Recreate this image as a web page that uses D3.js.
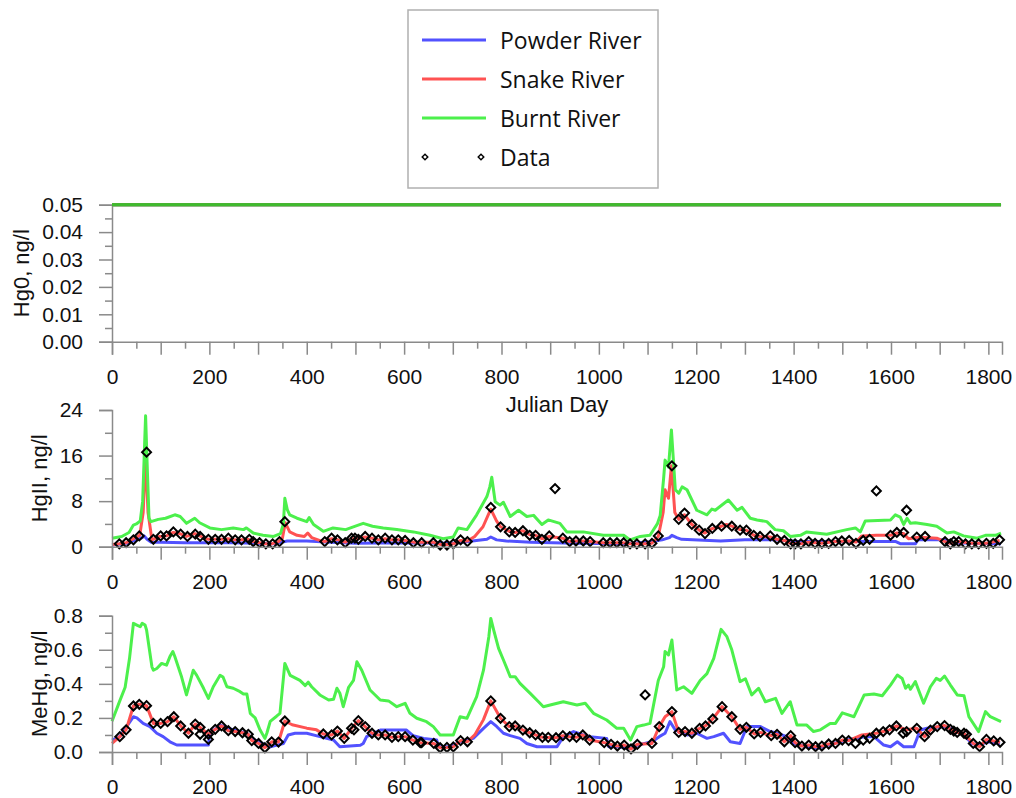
<!DOCTYPE html>
<html>
<head>
<meta charset="utf-8">
<script src="https://cdn.jsdelivr.net/npm/d3@7"></script>
<style>
  html, body { margin: 0; padding: 0; background: #fff; }
  svg { display: block; }
  .tick text { font-family: "Liberation Sans", Arial, sans-serif; font-size: 21px; fill: #111; }
</style>
</head>
<body>
<svg id="chart" width="1016" height="798"></svg>
<script>
// ---------------- DATA ----------------
const seriesNames = ["Powder River", "Snake River", "Burnt River", "Data"];
const xTickLabels = [0, 200, 400, 600, 800, 1000, 1200, 1400, 1600, 1800];

// Panel 1: Hg0 (ng/l)
const hg0Powder = [[0, 0.05], [1826, 0.05]];
const hg0Snake  = [[0, 0.05], [1826, 0.05]];
const hg0Burnt  = [[0, 0.05], [1826, 0.05]];
const hg0Ticks  = [0.00, 0.01, 0.02, 0.03, 0.04, 0.05];

// Panel 2: HgII (ng/l)
const hgiiPowder = [[0,0.3],[30,0.6],[50,1.2],[62,1.6],[66,1.9],[72,1.3],[80,0.8],[100,0.8],[150,0.7],[250,0.7],[330,0.5],[350,0.8],[360,1.0],[400,1.0],[450,0.8],[500,0.6],[600,0.7],[700,0.6],[740,1.0],[770,1.3],[778,1.7],[790,1.2],[810,1.0],[860,0.8],[950,0.6],[1050,0.5],[1100,0.8],[1130,1.2],[1145,1.6],[1150,2.0],[1160,1.6],[1170,1.3],[1250,1.0],[1300,1.2],[1360,1.2],[1410,0.9],[1610,0.9],[1620,0.5],[1650,0.5],[1655,1.2],[1710,1.2],[1720,0.7],[1826,0.5]];
const hgiiSnake = [[0,0.4],[15,0.5],[29,0.7],[44,1.4],[57,2.0],[64,6],[69,16.0],[74,6],[82,1.2],[98,1.8],[112,1.9],[126,2.5],[139,2.3],[153,1.8],[170,2.3],[180,1.9],[198,1.3],[212,1.3],[225,1.3],[239,1.4],[253,1.2],[266,1.2],[280,1.3],[290,0.9],[304,0.7],[316,0.5],[328,0.5],[342,0.9],[350,1.5],[356,4.2],[365,2.6],[380,2.0],[395,1.8],[402,2.4],[410,1.6],[426,1.1],[437,0.9],[451,1.4],[465,1.2],[479,0.8],[492,1.4],[506,1.4],[520,1.7],[534,1.5],[547,1.2],[561,1.4],[575,1.2],[588,1.2],[602,1.1],[619,0.8],[636,0.8],[660,0.8],[674,0.4],[688,0.4],[701,0.5],[716,1.1],[730,1.0],[745,1.8],[762,3.5],[778,6.6],[790,4.5],[798,3.5],[816,2.7],[828,2.5],[844,2.8],[858,2.1],[870,2.0],[883,1.4],[898,1.8],[926,1.5],[940,0.9],[953,1.0],[968,1.0],[982,0.9],[1009,0.7],[1023,0.7],[1037,0.7],[1051,0.7],[1064,0.5],[1078,0.5],[1095,0.5],[1109,0.6],[1122,1.8],[1132,6],[1136,10],[1143,8.5],[1149,14.2],[1156,6],[1164,4.8],[1176,5.6],[1191,3.9],[1206,2.9],[1218,2.4],[1233,3.2],[1252,3.6],[1262,3.9],[1273,3.6],[1290,3.0],[1303,2.9],[1318,2.0],[1331,1.8],[1352,1.7],[1366,1.3],[1381,1.1],[1394,0.6],[1415,0.5],[1431,0.8],[1458,0.6],[1486,0.9],[1514,1.0],[1528,0.8],[1540,1.9],[1570,2.0],[1599,2.0],[1612,2.4],[1626,2.3],[1636,1.4],[1653,1.6],[1670,1.6],[1694,1.5],[1711,0.9],[1722,0.6],[1739,0.9],[1766,0.6],[1796,0.6],[1823,1.1]];
const hgiiBurnt = [[0,1.5],[20,1.8],[35,2.5],[44,3.8],[50,4.0],[58,4.5],[63,8],[67,18],[69,23.0],[72,15],[76,5],[80,4.4],[95,4.8],[110,5.0],[129,5.6],[140,5.3],[153,4.1],[170,5.0],[180,4.2],[201,3.3],[225,3.0],[249,3.3],[270,3.0],[276,3.3],[290,2.4],[310,2.0],[332,1.8],[346,2.3],[352,4],[355,8.5],[360,6.5],[365,5.6],[380,5.0],[400,4.4],[405,5.1],[414,3.9],[434,2.7],[454,3.3],[480,3.0],[500,3.6],[516,4.1],[535,3.6],[557,3.3],[585,3.0],[619,2.6],[653,2.0],[680,1.4],[701,1.7],[711,3.3],[729,3.0],[749,5.6],[770,8.8],[776,10.5],[780,12.2],[787,7.9],[797,7.3],[804,7.8],[818,5.3],[835,6.4],[852,5.3],[866,5.5],[883,3.9],[896,4.7],[920,4.1],[934,2.6],[968,2.6],[1009,2.0],[1051,2.0],[1064,1.2],[1085,1.8],[1105,2.0],[1120,4.0],[1126,5.5],[1133,12],[1136,15.2],[1143,14],[1149,20.5],[1157,10],[1164,9.4],[1171,10.5],[1181,10],[1201,6.4],[1222,5.6],[1232,6.6],[1239,6.4],[1266,8.2],[1284,6.4],[1294,6.9],[1311,5.0],[1325,4.7],[1345,4.4],[1362,3.0],[1379,2.8],[1393,1.8],[1414,2.0],[1427,2.6],[1468,2.2],[1509,3.0],[1527,3.3],[1537,2.6],[1547,4.5],[1599,4.7],[1609,5.6],[1619,5.2],[1626,3.9],[1633,5.0],[1640,4.1],[1650,4.2],[1674,3.9],[1694,3.6],[1715,2.4],[1729,2.6],[1749,1.9],[1777,1.5],[1794,2.0],[1815,2.0],[1826,2.4]];
const hgiiData = [[15,0.5],[29,0.7],[44,1.2],[56,1.9],[71,16.6],[85,1.3],[100,1.9],[112,1.9],[126,2.6],[141,2.2],[155,1.8],[171,2.2],[181,1.8],[198,1.3],[212,1.3],[225,1.3],[239,1.5],[253,1.2],[266,1.2],[282,1.3],[290,0.9],[303,0.7],[316,0.5],[330,0.5],[344,0.9],[355,4.4],[437,0.9],[451,1.5],[463,1.2],[479,0.7],[492,1.5],[499,1.5],[506,1.3],[520,1.8],[534,1.5],[547,1.2],[561,1.5],[575,1.2],[588,1.2],[602,1.1],[619,0.7],[636,0.7],[660,0.7],[674,0.3],[688,0.3],[701,0.5],[716,1.2],[730,0.9],[778,6.9],[798,3.5],[816,2.6],[828,2.5],[844,2.8],[858,2.0],[870,2.0],[883,1.3],[898,1.9],[910,10.2],[926,1.5],[940,0.9],[953,1.0],[968,1.0],[982,0.9],[1009,0.7],[1023,0.7],[1037,0.7],[1051,0.7],[1064,0.5],[1078,0.5],[1095,0.5],[1109,0.6],[1122,1.9],[1150,14.2],[1164,4.8],[1176,5.9],[1191,3.9],[1206,2.9],[1218,2.3],[1233,3.2],[1252,3.6],[1273,3.6],[1290,2.9],[1303,2.9],[1318,2.0],[1331,1.8],[1352,1.9],[1366,1.3],[1381,1.1],[1394,0.5],[1403,0.5],[1415,0.5],[1431,0.9],[1444,0.6],[1458,0.6],[1472,0.6],[1486,0.9],[1499,1.0],[1514,1.1],[1528,0.6],[1543,1.1],[1556,1.3],[1570,9.8],[1599,2.0],[1612,2.5],[1626,2.5],[1632,6.4],[1653,1.7],[1670,1.8],[1711,0.9],[1722,0.5],[1729,0.9],[1739,0.9],[1753,0.5],[1766,0.5],[1780,0.5],[1796,0.6],[1810,0.6],[1823,1.2]];
const hgiiTicks = [0, 8, 16, 24];

// Panel 3: MeHg (ng/l)
const mehgPowder = [[0,0.07],[16,0.09],[30,0.149],[44,0.207],[51,0.2],[64,0.168],[78,0.149],[92,0.11],[105,0.09],[119,0.06],[133,0.041],[198,0.041],[201,0.11],[222,0.158],[249,0.13],[277,0.11],[290,0.074],[311,0.047],[325,0.03],[352,0.05],[362,0.1],[376,0.11],[400,0.11],[427,0.09],[455,0.07],[468,0.031],[510,0.04],[516,0.05],[523,0.09],[537,0.11],[551,0.129],[605,0.129],[619,0.095],[640,0.08],[667,0.07],[671,0.031],[695,0.031],[715,0.06],[742,0.08],[763,0.139],[778,0.178],[790,0.15],[804,0.11],[818,0.096],[838,0.08],[852,0.05],[873,0.031],[914,0.031],[927,0.09],[948,0.12],[968,0.1],[982,0.09],[1016,0.08],[1020,0.031],[1037,0.031],[1065,0.022],[1079,0.04],[1109,0.06],[1124,0.09],[1136,0.11],[1146,0.178],[1157,0.129],[1181,0.1],[1201,0.11],[1222,0.08],[1236,0.09],[1256,0.11],[1270,0.06],[1290,0.05],[1304,0.149],[1332,0.149],[1352,0.12],[1366,0.11],[1386,0.09],[1400,0.05],[1427,0.031],[1448,0.022],[1482,0.05],[1510,0.07],[1545,0.09],[1565,0.09],[1585,0.041],[1599,0.031],[1613,0.06],[1626,0.031],[1647,0.031],[1660,0.129],[1674,0.139],[1708,0.149],[1729,0.133],[1750,0.1],[1766,0.05],[1783,0.041],[1797,0.06],[1824,0.05]];
const mehgSnake = [[0,0.05],[16,0.09],[29,0.13],[44,0.27],[56,0.28],[71,0.272],[85,0.168],[100,0.168],[114,0.178],[127,0.207],[141,0.153],[157,0.11],[171,0.164],[181,0.145],[198,0.104],[212,0.133],[225,0.153],[239,0.125],[253,0.12],[268,0.113],[280,0.104],[287,0.067],[301,0.05],[314,0.025],[328,0.06],[342,0.058],[355,0.182],[370,0.16],[400,0.14],[420,0.13],[434,0.106],[451,0.1],[463,0.123],[477,0.08],[492,0.139],[506,0.184],[520,0.149],[534,0.11],[547,0.1],[561,0.1],[575,0.086],[588,0.09],[602,0.09],[618,0.07],[633,0.055],[661,0.05],[674,0.025],[688,0.027],[701,0.03],[716,0.067],[730,0.06],[745,0.1],[763,0.19],[778,0.3],[798,0.198],[816,0.149],[828,0.153],[844,0.129],[858,0.113],[870,0.1],[884,0.086],[912,0.084],[926,0.096],[940,0.09],[954,0.086],[967,0.1],[981,0.07],[1011,0.055],[1025,0.045],[1038,0.035],[1052,0.041],[1066,0.018],[1079,0.045],[1109,0.05],[1124,0.149],[1136,0.207],[1150,0.237],[1164,0.115],[1177,0.12],[1191,0.11],[1207,0.139],[1219,0.153],[1234,0.194],[1253,0.266],[1273,0.207],[1290,0.133],[1303,0.145],[1319,0.106],[1332,0.115],[1354,0.096],[1366,0.104],[1381,0.06],[1394,0.096],[1403,0.055],[1417,0.035],[1431,0.041],[1445,0.031],[1458,0.035],[1472,0.047],[1486,0.05],[1500,0.07],[1513,0.067],[1540,0.1],[1570,0.11],[1584,0.12],[1597,0.13],[1611,0.153],[1632,0.13],[1653,0.139],[1669,0.09],[1681,0.129],[1695,0.149],[1710,0.155],[1722,0.133],[1736,0.115],[1750,0.11],[1769,0.05],[1782,0.031],[1796,0.074],[1811,0.065],[1824,0.057]];
const mehgBurnt = [[0,0.18],[16,0.30],[27,0.38],[36,0.55],[44,0.755],[51,0.745],[58,0.735],[62,0.755],[68,0.745],[71,0.716],[82,0.50],[85,0.48],[92,0.49],[102,0.52],[112,0.51],[119,0.56],[125,0.59],[129,0.56],[143,0.44],[153,0.335],[167,0.48],[174,0.45],[188,0.374],[198,0.315],[208,0.383],[222,0.45],[228,0.44],[236,0.383],[249,0.374],[263,0.354],[270,0.34],[277,0.34],[284,0.227],[294,0.2],[304,0.13],[314,0.08],[318,0.11],[325,0.18],[338,0.21],[345,0.227],[355,0.52],[366,0.45],[386,0.42],[397,0.39],[403,0.41],[410,0.383],[427,0.335],[445,0.305],[455,0.31],[462,0.374],[468,0.345],[475,0.266],[486,0.38],[496,0.42],[503,0.53],[513,0.48],[530,0.364],[551,0.305],[568,0.3],[585,0.266],[602,0.286],[612,0.227],[626,0.198],[646,0.178],[660,0.149],[674,0.1],[701,0.1],[715,0.207],[729,0.198],[749,0.325],[763,0.48],[774,0.677],[778,0.784],[784,0.716],[794,0.608],[804,0.54],[818,0.442],[828,0.442],[838,0.403],[859,0.344],[876,0.295],[886,0.266],[900,0.276],[927,0.295],[955,0.276],[972,0.286],[989,0.227],[1016,0.188],[1037,0.139],[1051,0.139],[1065,0.07],[1078,0.149],[1092,0.158],[1105,0.168],[1122,0.42],[1133,0.5],[1136,0.59],[1143,0.57],[1150,0.657],[1160,0.364],[1174,0.383],[1191,0.344],[1208,0.42],[1222,0.46],[1236,0.55],[1251,0.72],[1263,0.677],[1273,0.6],[1290,0.413],[1301,0.43],[1314,0.335],[1328,0.374],[1342,0.295],[1363,0.315],[1376,0.227],[1393,0.295],[1407,0.158],[1427,0.158],[1441,0.12],[1455,0.13],[1475,0.168],[1486,0.168],[1500,0.23],[1524,0.207],[1545,0.335],[1565,0.34],[1582,0.33],[1599,0.393],[1613,0.452],[1623,0.432],[1630,0.374],[1636,0.393],[1640,0.368],[1650,0.413],[1667,0.286],[1681,0.383],[1693,0.432],[1701,0.42],[1710,0.446],[1722,0.393],[1736,0.335],[1750,0.33],[1760,0.207],[1780,0.12],[1794,0.237],[1804,0.207],[1826,0.178]];
const mehgData = [[16,0.09],[29,0.13],[44,0.27],[56,0.28],[71,0.272],[85,0.168],[100,0.168],[114,0.178],[127,0.207],[141,0.153],[157,0.11],[171,0.164],[181,0.145],[181,0.104],[198,0.104],[198,0.074],[212,0.133],[225,0.153],[239,0.125],[253,0.12],[268,0.113],[280,0.104],[287,0.067],[301,0.05],[314,0.025],[328,0.06],[342,0.058],[355,0.182],[434,0.106],[451,0.1],[463,0.123],[477,0.08],[492,0.139],[497,0.13],[506,0.184],[520,0.149],[534,0.11],[547,0.1],[561,0.1],[575,0.086],[588,0.09],[602,0.09],[618,0.07],[633,0.055],[636,0.055],[661,0.05],[674,0.025],[688,0.027],[701,0.03],[716,0.067],[730,0.06],[778,0.3],[798,0.198],[816,0.149],[828,0.153],[844,0.129],[858,0.113],[870,0.1],[884,0.086],[896,0.086],[912,0.084],[926,0.096],[940,0.09],[954,0.086],[967,0.1],[981,0.07],[1011,0.055],[1025,0.045],[1038,0.035],[1052,0.041],[1066,0.018],[1079,0.045],[1095,0.335],[1109,0.05],[1124,0.149],[1150,0.237],[1164,0.115],[1177,0.12],[1191,0.11],[1207,0.139],[1219,0.153],[1234,0.194],[1253,0.266],[1273,0.207],[1290,0.133],[1303,0.145],[1319,0.106],[1332,0.115],[1354,0.096],[1366,0.104],[1381,0.06],[1394,0.096],[1403,0.055],[1417,0.035],[1431,0.041],[1445,0.031],[1458,0.035],[1472,0.047],[1486,0.05],[1500,0.07],[1513,0.067],[1527,0.05],[1543,0.07],[1556,0.08],[1570,0.11],[1584,0.12],[1597,0.13],[1611,0.153],[1625,0.11],[1632,0.12],[1653,0.139],[1669,0.09],[1681,0.129],[1695,0.149],[1710,0.155],[1722,0.133],[1729,0.123],[1736,0.115],[1750,0.11],[1755,0.104],[1769,0.05],[1782,0.031],[1796,0.074],[1811,0.065],[1824,0.057]];
const mehgTicks = [0.0, 0.2, 0.4, 0.6, 0.8];

// ---------------- DRAWING ----------------
const colors = { powder: "#5252ff", snake: "#ff5252", burnt: "#4cf04c" };
const FONT = '"Liberation Sans", Arial, sans-serif';
const svg = d3.select("#chart");

const x = d3.scaleLinear().domain([0, 1828]).range([112, 1002]);
const xMinorTicks = d3.range(0, 1801, 50);

const panels = [
  { title: "Hg0, ng/l", domain: [0, 0.05], range: [341.7, 204.7], major: hg0Ticks, step: 0.005,
    fmt: d3.format(".2f"), titleX: 21, series: [hg0Powder, hg0Snake, hg0Burnt], data: null, flat: true },
  { title: "HgII, ng/l", domain: [0, 24], range: [546.7, 410], major: hgiiTicks, step: 4,
    fmt: d3.format("d"), titleX: 39, series: [hgiiPowder, hgiiSnake, hgiiBurnt], data: hgiiData },
  { title: "MeHg, ng/l", domain: [0, 0.8], range: [752, 615.7], major: mehgTicks, step: 0.1,
    fmt: d3.format(".1f"), titleX: 39, series: [mehgPowder, mehgSnake, mehgBurnt], data: mehgData }
];

const axisColor = "#8a8a8a";
const diamond = d3.symbol().type(d3.symbolSquare).size(40);

panels.forEach((p, i) => {
  const y = d3.scaleLinear().domain(p.domain).range(p.range);
  const g = svg.append("g");

  // lines
  const line = d3.line().x(d => x(d[0])).y(d => y(d[1]));
  const cols = [colors.powder, colors.snake, p.flat ? "#3fba2e" : colors.burnt];
  p.series.forEach((s, k) => {
    g.append("path").datum(s).attr("d", line)
      .attr("fill", "none").attr("stroke", cols[k])
      .attr("stroke-width", 3).attr("stroke-linejoin", "round");
  });

  // data markers
  if (p.data) {
    g.selectAll(".pt").data(p.data).enter().append("path")
      .attr("d", diamond)
      .attr("transform", d => `translate(${x(d[0])},${y(d[1])}) rotate(45)`)
      .attr("fill", "none").attr("stroke", "#000").attr("stroke-width", 2);
  }

  // x axis
  const xa = d3.axisBottom(x).tickValues(xMinorTicks).tickSizeOuter(0)
    .tickSize(13).tickPadding(14.5)
    .tickFormat(d => (d % 200 === 0 ? d : ""));
  const gx = svg.append("g").attr("transform", `translate(0,${p.range[0]})`).call(xa);
  gx.select(".domain").attr("stroke", axisColor).attr("stroke-width", 1.5);
  gx.selectAll(".tick line").attr("stroke", axisColor).attr("stroke-width", 1.5)
    .attr("y2", d => (d % 100 === 0 ? 13 : 7));
  gx.selectAll(".tick text").style("font-family", FONT);

  // y axis
  const yTicks = d3.range(0, Math.round(p.domain[1] / p.step) + 1).map(k => +(k * p.step).toFixed(4));
  const majorSet = new Set(p.major.map(v => v.toFixed(4)));
  const ya = d3.axisLeft(y).tickValues(yTicks).tickSizeOuter(0)
    .tickSize(13).tickPadding(16)
    .tickFormat(d => (majorSet.has(d.toFixed(4)) ? p.fmt(d) : ""));
  const gy = svg.append("g").attr("transform", `translate(${x(0)},0)`).call(ya);
  gy.select(".domain").attr("stroke", axisColor).attr("stroke-width", 1.5);
  gy.selectAll(".tick line").attr("stroke", axisColor).attr("stroke-width", 1.5)
    .attr("x2", d => (majorSet.has(d.toFixed(4)) ? -13 : -7));
  gy.selectAll(".tick text").style("font-family", FONT);

  // y title
  svg.append("text")
    .attr("transform", `translate(${p.titleX},${(p.range[0] + p.range[1]) / 2}) rotate(-90)`)
    .attr("text-anchor", "middle").attr("dominant-baseline", "central")
    .style("font-family", FONT).style("font-size", "22px").attr("fill", "#111")
    .text(p.title);

  // keep the flat Hg0 line above the axes
  if (p.flat) {
    svg.append("path").datum(p.series[2]).attr("d", line)
      .attr("fill", "none").attr("stroke", "#3fba2e").attr("stroke-width", 3);
  }
});

// x-axis title
svg.append("text")
  .attr("x", (x.range()[0] + x.range()[1]) / 2).attr("y", 404)
  .attr("text-anchor", "middle").attr("dominant-baseline", "central")
  .style("font-family", FONT).style("font-size", "22px").attr("fill", "#111")
  .text("Julian Day");

// legend
const lg = svg.append("g");
lg.append("rect").attr("x", 408).attr("y", 10).attr("width", 250).attr("height", 178)
  .attr("fill", "#fff").attr("stroke", "#b0b0b0").attr("stroke-width", 1.5);
const legendItems = [
  { name: seriesNames[0], color: colors.powder },
  { name: seriesNames[1], color: colors.snake },
  { name: seriesNames[2], color: colors.burnt },
  { name: seriesNames[3], color: null }
];
const legendY = [40, 79, 118, 157];
legendItems.forEach((it, i) => {
  const yy = legendY[i];
  if (it.color) {
    lg.append("line").attr("x1", 422).attr("x2", 486).attr("y1", yy).attr("y2", yy)
      .attr("stroke", it.color).attr("stroke-width", 3);
  } else {
    [425, 481].forEach(cx => {
      lg.append("path").attr("d", d3.symbol().type(d3.symbolSquare).size(16))
        .attr("transform", `translate(${cx},${yy}) rotate(45)`)
        .attr("fill", "none").attr("stroke", "#000").attr("stroke-width", 1.4);
    });
  }
  lg.append("text").attr("x", 500).attr("y", yy).attr("dominant-baseline", "central")
    .style("font-family", '"Open Sans", "Noto Sans", sans-serif').style("font-size", "23px")
    .attr("fill", "#111").text(it.name);
});
</script>
</body>
</html>
